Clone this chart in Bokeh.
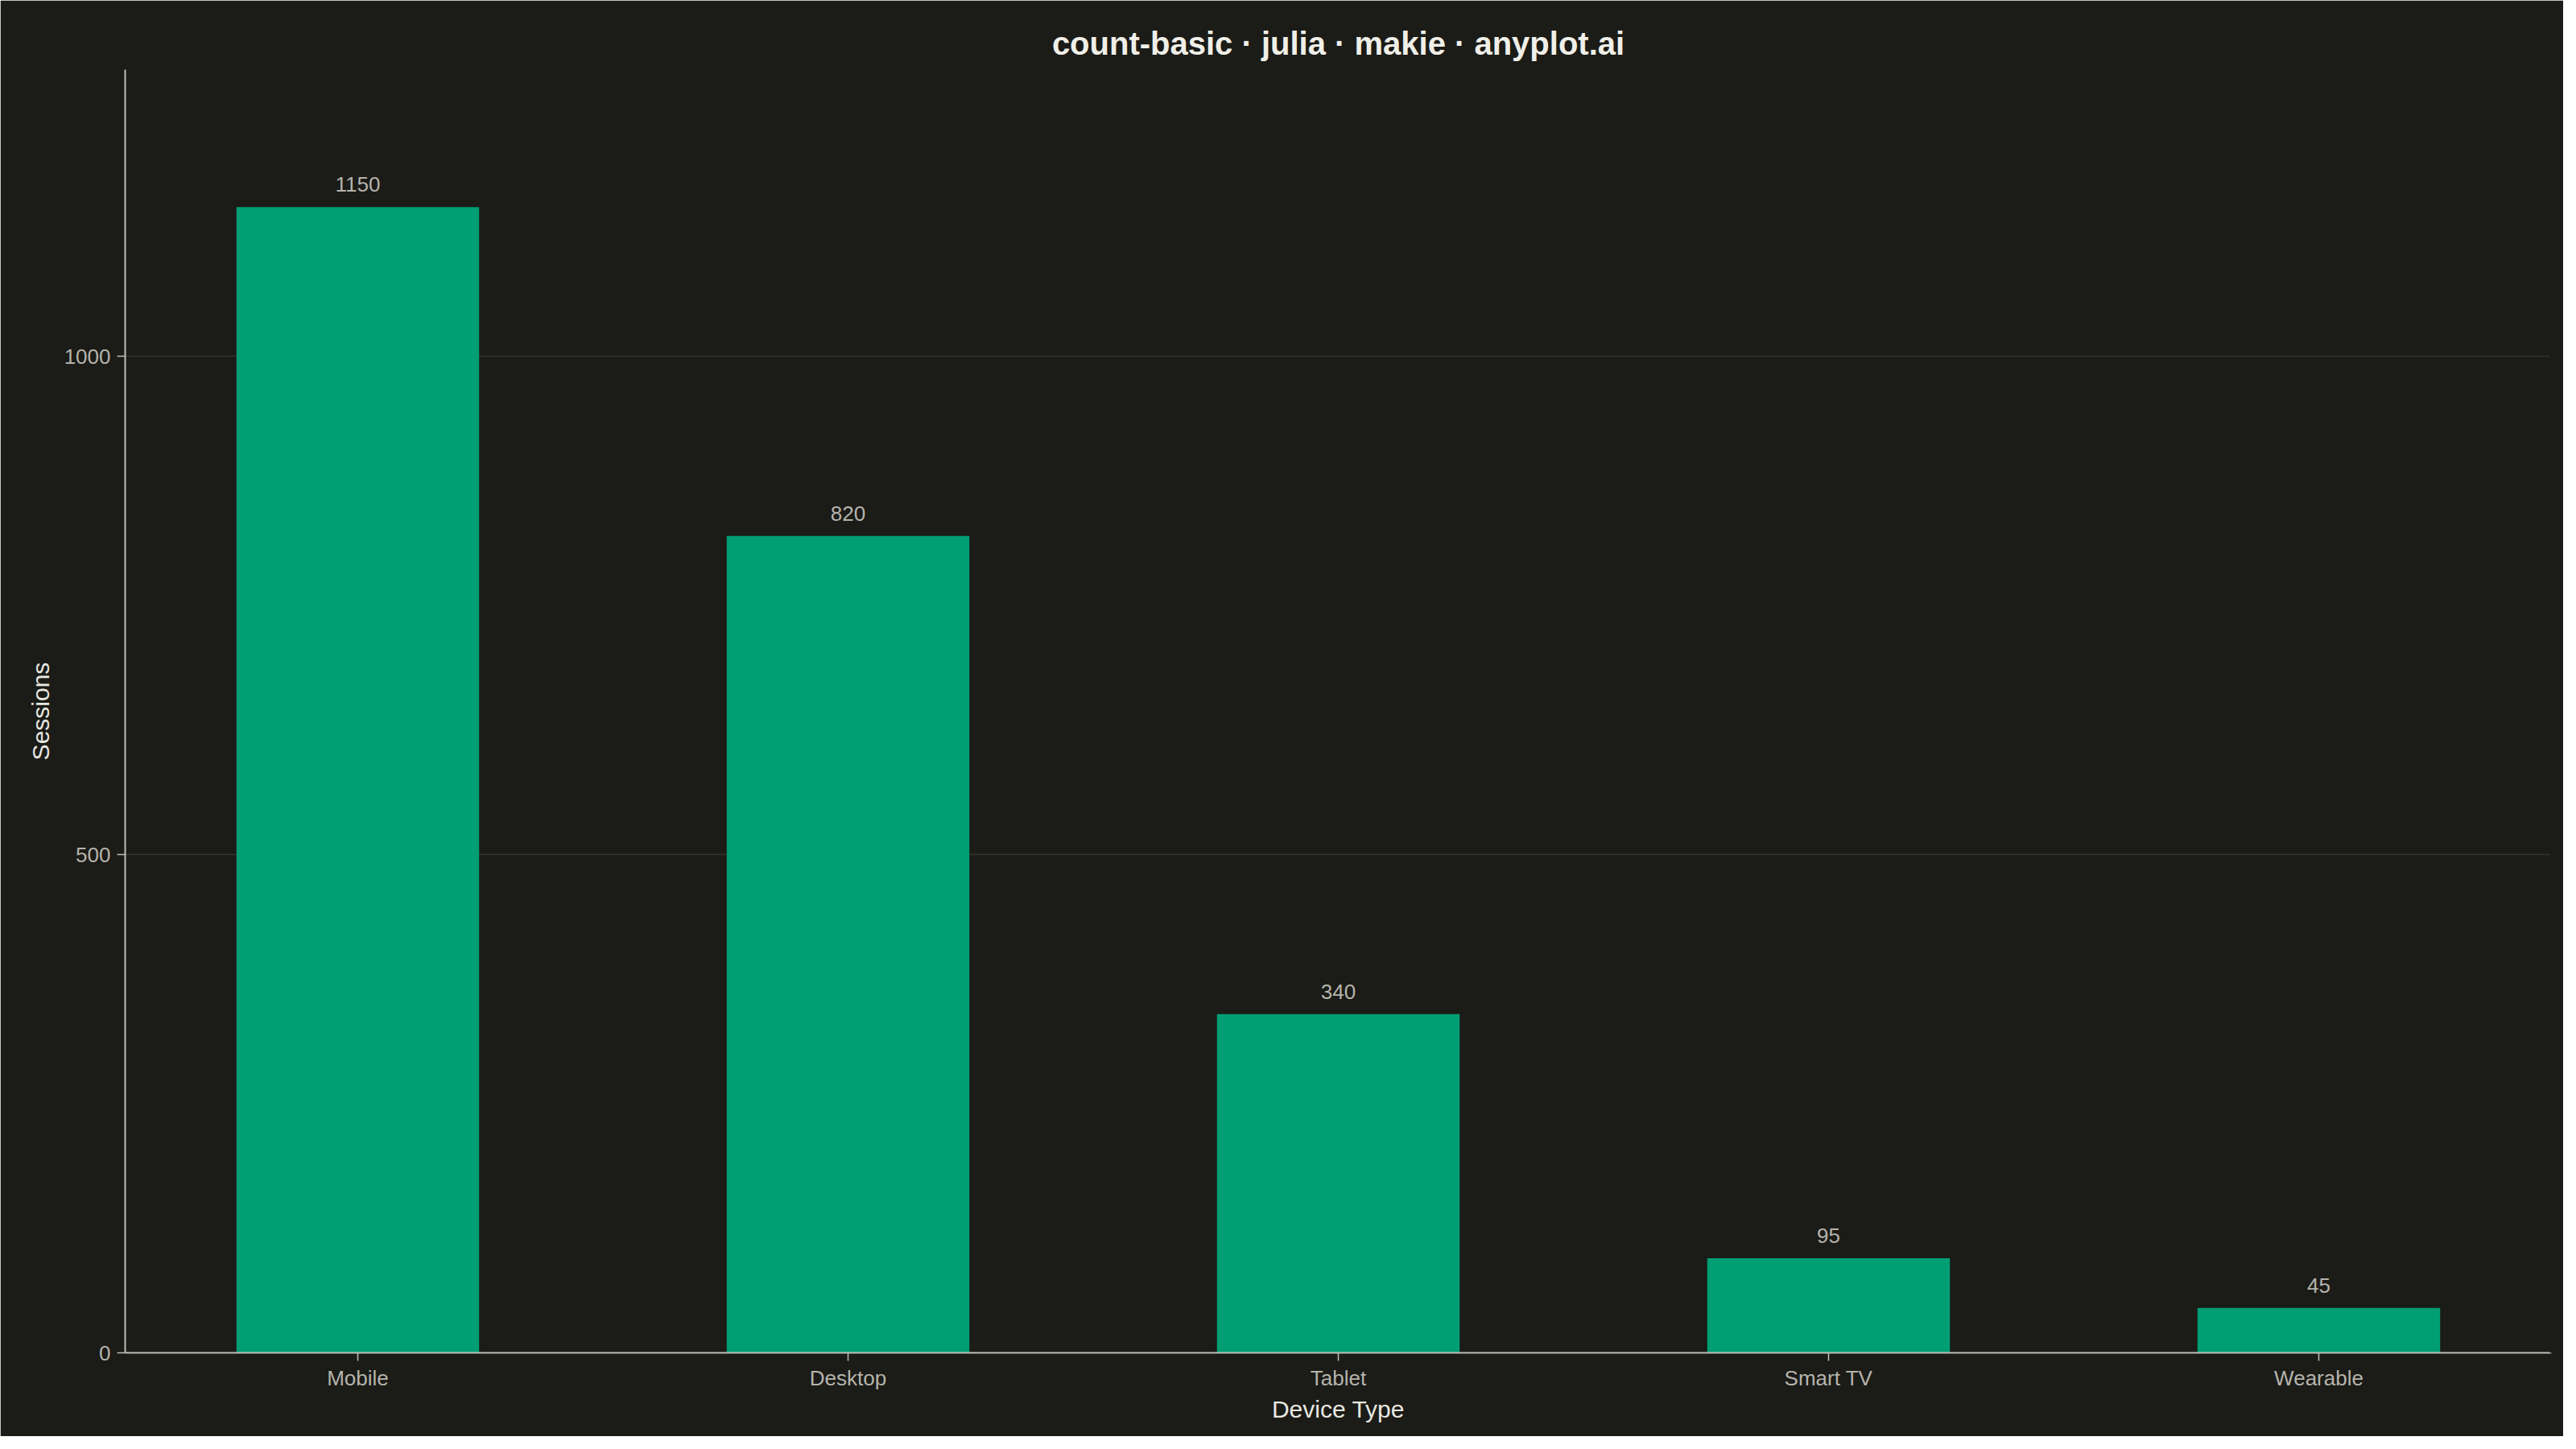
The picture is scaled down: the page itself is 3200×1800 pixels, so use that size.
from bokeh.plotting import figure
from bokeh.models import (ColumnDataSource, Range1d, FactorRange, FixedTicker,
                          LinearAxis, CategoricalAxis)
from bokeh.core.properties import value
from bokeh.embed import file_html
from bokeh.resources import INLINE

categories = ["Mobile", "Desktop", "Tablet", "Smart TV", "Wearable"]
sessions = [1150, 820, 340, 95, 45]
y_ticks = [0, 500, 1000]

BG = "#1B1B17"
BAR = "#009E73"
TITLE_C = "#F0EFE8"
LABEL_C = "#E8E7E0"
TICK_C = "#B5B4AC"
AXIS_C = "#BFBEB6"
GRID_C = "#34342F"
FONT = "Liberation Sans"

src = ColumnDataSource(dict(cat=categories, val=sessions,
                            lab=[str(v) for v in sessions]))

p = figure(width=3184, height=1784, output_backend="svg", toolbar_location=None,
           x_range=FactorRange(*categories, range_padding=-0.0102,
                               range_padding_units="percent"),
           y_range=Range1d(0, 1288),
           title="count-basic · julia · makie · anyplot.ai",
           min_border_left=155, min_border_right=15,
           min_border_top=86, min_border_bottom=104)

p.background_fill_color = BG
p.border_fill_color = BG
p.outline_line_color = None
p.outline_line_alpha = 0

p.vbar(x="cat", top="val", width=0.495, source=src, color=BAR, line_color=None)
p.text(x="cat", y="val", text="lab", source=src, text_align="center",
       text_baseline="alphabetic", y_offset=-28, text_color=TICK_C,
       text_font=value(FONT), text_font_size="26px")

p.title.align = "center"
p.title.text_font = FONT
p.title.text_font_size = "40px"
p.title.text_font_style = "bold"
p.title.text_color = TITLE_C
p.title.standoff = 9

p.xaxis.axis_label = "Device Type"
p.yaxis.axis_label = "Sessions"
p.yaxis.ticker = FixedTicker(ticks=y_ticks)

for ax in (p.xaxis[0], p.yaxis[0]):
    ax.axis_label_text_font = FONT
    ax.axis_label_text_font_size = "30px"
    ax.axis_label_text_font_style = "normal"
    ax.axis_label_text_color = LABEL_C
    ax.major_label_text_font = FONT
    ax.major_label_text_font_size = "26px"
    ax.major_label_text_color = TICK_C
    ax.axis_line_color = AXIS_C
    ax.axis_line_width = 2
    ax.major_tick_line_color = AXIS_C
    ax.major_tick_line_width = 1.5
    ax.major_tick_out = 10
    ax.major_tick_in = 0
    ax.minor_tick_line_color = None
    ax.major_label_standoff = 8

p.xaxis.major_label_standoff = 6
p.xaxis.axis_label_standoff = 4
p.yaxis.axis_label_standoff = 10
p.yaxis.major_label_orientation = "horizontal"

# invisible covering axes on the open sides
right_ax = LinearAxis(ticker=FixedTicker(ticks=[]))
top_ax = CategoricalAxis()
for ax in (right_ax, top_ax):
    ax.axis_line_color = BG
    ax.axis_line_width = 4
    ax.major_tick_line_color = None
    ax.minor_tick_line_color = None
    ax.major_label_text_font_size = "0px"
    ax.major_label_standoff = 0
top_ax.major_label_text_color = None
top_ax.group_text_color = None
p.add_layout(right_ax, "right")
p.add_layout(top_ax, "above")

p.xgrid.grid_line_color = None
p.ygrid.grid_line_color = GRID_C
p.ygrid.grid_line_width = 1.5

open("out.html", "w").write(file_html(p, INLINE))
